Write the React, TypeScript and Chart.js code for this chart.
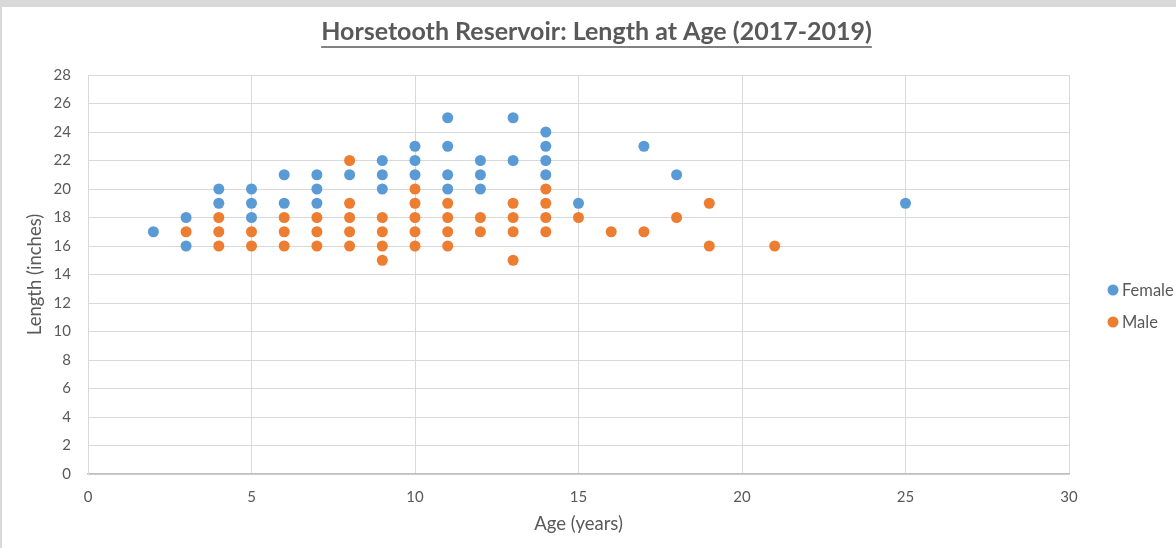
import React, { useEffect, useRef } from 'react';
import { Chart, registerables } from 'chart.js';

Chart.register(...registerables);

const TITLE = 'Horsetooth Reservoir: Length at Age (2017-2019)';
const X_TITLE = 'Age (years)';
const Y_TITLE = 'Length (inches)';
const SERIES_NAMES = ['Female', 'Male'];
const SERIES_COLORS = ['#5B9BD5', '#ED7D31'];

const X_MIN = 0;
const X_MAX = 30;
const X_STEP = 5;
const Y_MIN = 0;
const Y_MAX = 28;
const Y_STEP = 2;

const femaleAge = [2, 3, 3, 4, 4, 5, 5, 5, 6, 6, 7, 7, 7, 8, 9, 9, 9, 10, 10, 10, 11, 11, 11, 11, 12, 12, 12, 13, 13, 14, 14, 14, 14, 15, 17, 18, 25];
const femaleLength = [17, 18, 16, 20, 19, 20, 19, 18, 21, 19, 21, 20, 19, 21, 22, 21, 20, 23, 22, 21, 25, 23, 21, 20, 22, 21, 20, 25, 22, 24, 23, 22, 21, 19, 23, 21, 19];

const maleAge = [3, 4, 4, 4, 5, 5, 6, 6, 6, 7, 7, 7, 8, 8, 8, 8, 8, 9, 9, 9, 9, 10, 10, 10, 10, 10, 11, 11, 11, 11, 12, 12, 13, 13, 13, 13, 14, 14, 14, 14, 15, 16, 17, 18, 19, 19, 21];
const maleLength = [17, 18, 17, 16, 17, 16, 18, 17, 16, 18, 17, 16, 22, 19, 18, 17, 16, 18, 17, 16, 15, 20, 19, 18, 17, 16, 19, 18, 17, 16, 18, 17, 19, 18, 17, 15, 20, 19, 18, 17, 18, 17, 17, 18, 19, 16, 16];

const TEXT_COLOR = '#595959';
const FONT = 'Lato, "Open Sans", sans-serif';

const toPoints = (xs: number[], ys: number[]) => xs.map((x, i) => ({ x, y: ys[i] }));

const overlayPlugin = {
  id: 'overlay',
  afterDraw(chart: any) {
    const ctx: CanvasRenderingContext2D = chart.ctx;
    ctx.save();
    // Title with underline
    ctx.font = `bold 25px ${FONT}`;
    ctx.fillStyle = TEXT_COLOR;
    ctx.textAlign = 'center';
    ctx.textBaseline = 'alphabetic';
    const cx = 594.5;
    const baseY = 33;
    ctx.fillText(TITLE, cx, baseY);
    const w = ctx.measureText(TITLE).width;
    ctx.strokeStyle = TEXT_COLOR;
    ctx.lineWidth = 1.6;
    ctx.beginPath();
    ctx.moveTo(cx - w / 2, baseY + 7);
    ctx.lineTo(cx + w / 2, baseY + 7);
    ctx.stroke();

    // Legend
    ctx.font = `16.5px ${FONT}`;
    ctx.textAlign = 'left';
    ctx.textBaseline = 'middle';
    const legendX = 1111;
    const legendY = [283, 315];
    chart.data.datasets.forEach((ds: any, i: number) => {
      ctx.fillStyle = ds.backgroundColor;
      ctx.beginPath();
      ctx.arc(legendX, legendY[i], 5.5, 0, Math.PI * 2);
      ctx.fill();
      ctx.fillStyle = TEXT_COLOR;
      ctx.fillText(ds.label, legendX + 9, legendY[i] + 1);
    });
    ctx.restore();
  },
};

export default function App() {
  const canvasRef = useRef<HTMLCanvasElement | null>(null);

  useEffect(() => {
    document.body.style.margin = '0';
    const canvas = canvasRef.current;
    if (!canvas) return;
    const chart = new Chart(canvas, {
      type: 'scatter',
      data: {
        datasets: [
          {
            label: SERIES_NAMES[0],
            data: toPoints(femaleAge, femaleLength),
            backgroundColor: SERIES_COLORS[0],
            borderWidth: 0,
            pointRadius: 5.5,
            order: 1,
          },
          {
            label: SERIES_NAMES[1],
            data: toPoints(maleAge, maleLength),
            backgroundColor: SERIES_COLORS[1],
            borderWidth: 0,
            pointRadius: 5.5,
            order: 0,
          },
        ],
      },
      options: {
        animation: false,
        responsive: false,
        maintainAspectRatio: false,
        layout: { padding: { top: 68, right: 107, left: 0, bottom: 0 } },
        plugins: {
          legend: { display: false },
          title: { display: false },
          tooltip: { enabled: false },
        },
        scales: {
          x: {
            type: 'linear',
            min: X_MIN,
            max: X_MAX,
            ticks: { stepSize: X_STEP, padding: 14, color: TEXT_COLOR, font: { family: FONT, size: 15 } },
            grid: { color: '#D9D9D9', lineWidth: 1, drawTicks: false },
            border: { color: '#BFBFBF', width: 1.5 },
            title: {
              display: true,
              text: X_TITLE,
              color: TEXT_COLOR,
              font: { family: FONT, size: 18.5 },
              padding: { top: 0, bottom: 13 },
            },
            afterFit: (s: any) => {
              s.height = 74;
            },
          },
          y: {
            type: 'linear',
            min: Y_MIN,
            max: Y_MAX,
            ticks: { stepSize: Y_STEP, padding: 17, color: TEXT_COLOR, font: { family: FONT, size: 15 } },
            grid: { color: '#D9D9D9', lineWidth: 1, drawTicks: false },
            border: { color: '#D9D9D9', width: 1 },
            title: {
              display: true,
              text: Y_TITLE,
              color: TEXT_COLOR,
              font: { family: FONT, size: 18.5 },
              padding: { top: 22, bottom: 0 },
            },
            afterFit: (s: any) => {
              s.width = 86;
            },
          },
        },
      },
      plugins: [overlayPlugin],
    } as any);
    return () => chart.destroy();
  }, []);

  return (
    <div style={{ position: 'relative', width: 1176, height: 548, background: '#D9D9D9', overflow: 'hidden' }}>
      <div style={{ position: 'absolute', left: 2, top: 7, width: 1174, height: 541, background: '#FFFFFF' }}>
        <canvas ref={canvasRef} width={1174} height={541} style={{ display: 'block' }} />
      </div>
    </div>
  );
}
